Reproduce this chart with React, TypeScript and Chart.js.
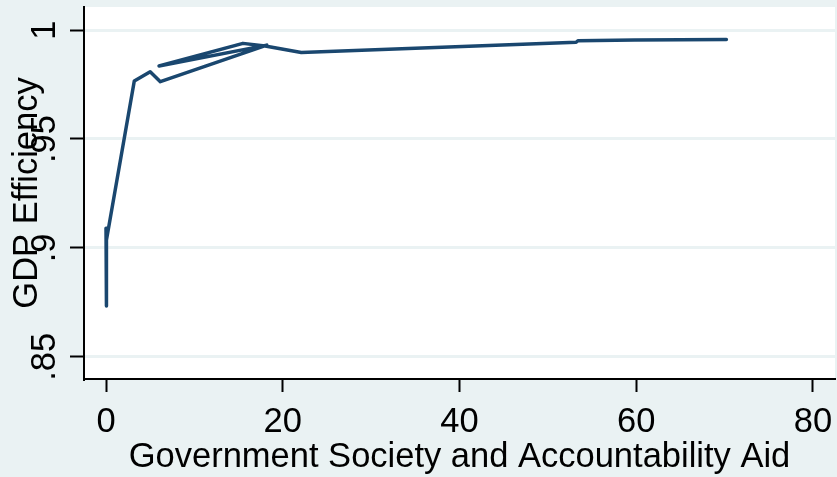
import React, { useEffect, useRef } from "react";
import { Chart, registerables } from "chart.js";

Chart.register(...registerables);

// ---- data ----
const xValues = [0, 0, 0.1, 3.2, 5.0, 6.15, 18.2, 6.0, 15.5, 18.0, 22.1, 53.2, 53.4, 59.8, 70.2];
const yValues = [0.909, 0.8733, 0.9036, 0.9766, 0.9809, 0.9763, 0.9931, 0.9835, 0.9939, 0.9927, 0.9897, 0.9944, 0.9951, 0.9954, 0.9957];
const xTicks = [0, 20, 40, 60, 80];
const xTickLabels = ["0", "20", "40", "60", "80"];
const yTicks = [0.85, 0.9, 0.95, 1];
const yTickLabels = [".85", ".9", ".95", "1"];
const xTitle = "Government Society and Accountability Aid";
const yTitle = "GDP Efficiency";

const FONT = "'Liberation Sans', Arial, sans-serif";
const BG = "#EAF2F3";
const LINE = "#1A476F";

const stataPlugin = {
  id: "stataLook",
  beforeDraw(chart: any) {
    const { ctx, chartArea } = chart;
    ctx.save();
    ctx.fillStyle = BG;
    ctx.fillRect(0, 0, chart.width, chart.height);
    ctx.fillStyle = "#ffffff";
    ctx.fillRect(chartArea.left, chartArea.top, chartArea.right - chartArea.left, chartArea.bottom - chartArea.top);
    ctx.restore();
  },
  afterDraw(chart: any) {
    const { ctx, chartArea } = chart;
    const ys = chart.scales.y;
    const xs = chart.scales.x;
    ctx.save();
    ctx.fillStyle = "#000";
    ctx.font = `34.5px ${FONT}`;
    ctx.textAlign = "center";
    ctx.textBaseline = "alphabetic";
    // y tick labels (rotated, Stata style)
    yTicks.forEach((v, i) => {
      const py = ys.getPixelForValue(v);
      ctx.save();
      ctx.translate(chartArea.left - 29, py);
      ctx.rotate(-Math.PI / 2);
      ctx.fillText(yTickLabels[i], 0, 0);
      ctx.restore();
    });
    // y title
    ctx.save();
    ctx.translate(chartArea.left - 47, (chartArea.top + chartArea.bottom) / 2);
    ctx.rotate(-Math.PI / 2);
    ctx.fillText(yTitle, 0, 0);
    ctx.restore();
    // x tick labels
    xTicks.forEach((v, i) => {
      const px = xs.getPixelForValue(v);
      ctx.fillText(xTickLabels[i], px, chartArea.bottom + 53);
    });
    // x title
    ctx.fillText(xTitle, (chartArea.left + chartArea.right) / 2, chartArea.bottom + 88);
    ctx.restore();
  },
};

export default function App() {
  const ref = useRef<HTMLCanvasElement | null>(null);
  useEffect(() => {
    document.body.style.margin = "0";
    const canvas = ref.current!;
    const chart = new Chart(canvas, {
      type: "line",
      data: {
        datasets: [
          {
            data: xValues.map((x, i) => ({ x, y: yValues[i] })),
            borderColor: LINE,
            borderWidth: 3.5,
            pointRadius: 0,
            tension: 0,
            fill: false,
            borderJoinStyle: "round",
            borderCapStyle: "round",
          } as any,
        ],
      },
      options: {
        animation: false,
        responsive: false,
        maintainAspectRatio: false,
        layout: { padding: { top: 7, right: 2, left: 0, bottom: 0 } },
        plugins: { legend: { display: false }, tooltip: { enabled: false } },
        scales: {
          x: {
            type: "linear",
            min: -2.49,
            max: 82.49,
            afterBuildTicks: (s: any) => {
              s.ticks = xTicks.map((v) => ({ value: v }));
            },
            afterFit: (s: any) => {
              s.height = 98;
            },
            ticks: { display: false },
            grid: {
              drawOnChartArea: false,
              drawTicks: true,
              tickLength: 13,
              tickColor: "#000",
              tickWidth: 2,
            },
            border: { display: true, color: "#000", width: 2 },
          },
          y: {
            type: "linear",
            min: 0.8398,
            max: 1.0106,
            afterBuildTicks: (s: any) => {
              s.ticks = yTicks.map((v) => ({ value: v }));
            },
            afterFit: (s: any) => {
              s.width = 84;
            },
            ticks: { display: false },
            grid: {
              color: BG,
              lineWidth: 3,
              drawTicks: true,
              tickLength: 14,
              tickColor: "#000",
              tickWidth: 2,
            },
            border: { display: true, color: "#000", width: 2 },
          },
        },
      },
      plugins: [stataPlugin],
    } as any);
    return () => chart.destroy();
  }, []);
  return <canvas ref={ref} width={837} height={477} style={{ display: "block", width: 837, height: 477 }} />;
}
